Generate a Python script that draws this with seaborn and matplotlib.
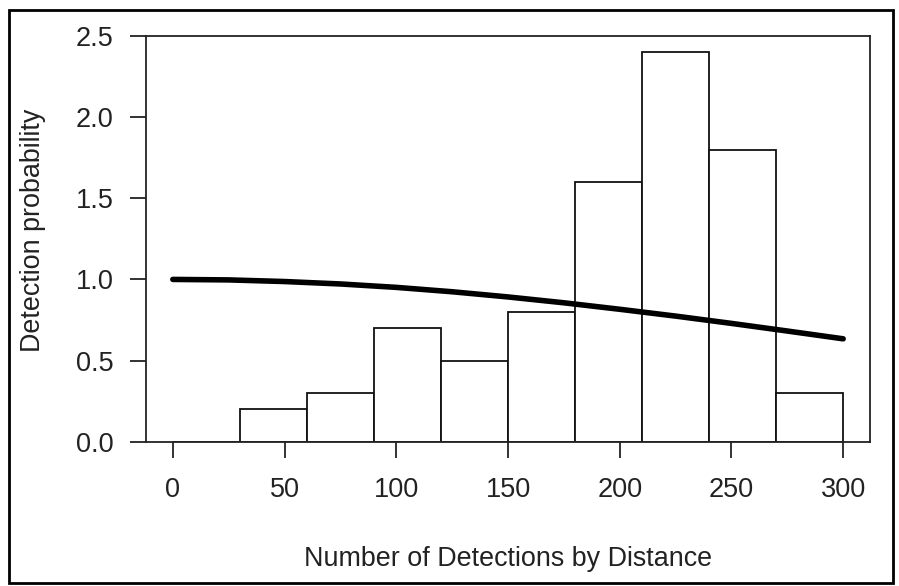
import numpy as np
import pandas as pd
import matplotlib
matplotlib.use("Agg")
import matplotlib.pyplot as plt
import seaborn as sns
from matplotlib.patches import Rectangle

# ---- data ----
bin_edges = [0, 30, 60, 90, 120, 150, 180, 210, 240, 270, 300]
bar_heights = [0.0, 0.2, 0.3, 0.7, 0.5, 0.8, 1.6, 2.4, 1.8, 0.3]
curve_x = [0, 25, 50, 75, 100, 125, 150, 175, 200, 225, 250, 275, 300]
curve_y = [1.0, 0.997, 0.987, 0.972, 0.951, 0.924, 0.892, 0.856, 0.816, 0.774, 0.729, 0.682, 0.634]
x_ticks = [0, 50, 100, 150, 200, 250, 300]
y_ticks = [0.0, 0.5, 1.0, 1.5, 2.0, 2.5]
y_tick_labels = ["0.0", "0.5", "1.0", "1.5", "2.0", "2.5"]
x_label = "Number of Detections by Distance"
y_label = "Detection probability"

sns.set_theme(style="white")
plt.rcParams["font.family"] = ["Liberation Sans", "DejaVu Sans"]

centers = [(bin_edges[i] + bin_edges[i + 1]) / 2 for i in range(len(bar_heights))]
bars = pd.DataFrame({"x": centers, "w": bar_heights})
curve = pd.DataFrame({"x": curve_x, "y": curve_y})

fig = plt.figure(figsize=(8.99, 5.86), dpi=100)
ax = fig.add_axes([146 / 899, 1 - 441.7 / 586, (870 - 146) / 899, (441.7 - 36) / 586])

sns.histplot(data=bars, x="x", weights="w", bins=bin_edges, stat="count",
             element="bars", fill=True, color="white", edgecolor="#111111",
             linewidth=1.3, alpha=1, ax=ax)
sns.lineplot(data=curve, x="x", y="y", color="black", linewidth=4.0, ax=ax)

ax.set_xlim(-12, 312)
ax.set_ylim(0, 2.5)
ax.set_xticks(x_ticks)
ax.set_xticklabels([str(v) for v in x_ticks])
ax.set_yticks(y_ticks)
ax.set_yticklabels(y_tick_labels)

for s in ax.spines.values():
    s.set_color("#222222")
    s.set_linewidth(1.3)

ax.tick_params(axis="both", which="both", direction="out", length=11.5, width=1.3,
               color="#222222", labelsize=19.5, labelcolor="#222222", left=True, bottom=True)
ax.tick_params(axis="x", pad=14)
ax.tick_params(axis="y", pad=12)

ax.set_xlabel(x_label, fontsize=19.4, color="#222222", labelpad=31)
ax.set_ylabel(y_label, fontsize=19.4, color="#222222", labelpad=21)
ax.yaxis.label.set_y(0.52)
ax.grid(False)

fig.patches.append(Rectangle((9 / 899, 1 - 582.5 / 586), (893 - 9) / 899, (582.5 - 10) / 586,
                             transform=fig.transFigure, fill=False, edgecolor="black",
                             linewidth=2.0, zorder=10))

fig.savefig("out.png", dpi=100)
